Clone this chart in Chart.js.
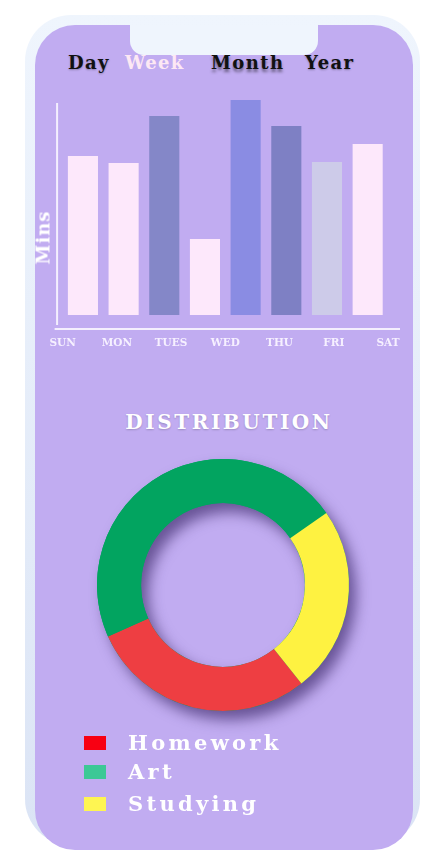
<!DOCTYPE html>
<html>
<head>
<meta charset="utf-8">
<script src="https://cdn.jsdelivr.net/npm/chart.js@4/dist/chart.umd.min.js"></script>
<style>
  html, body { margin: 0; padding: 0; background: #fff; }
  body { width: 445px; height: 862px; position: relative; overflow: hidden; font-family: "DejaVu Serif", serif; }
  .frame { position: absolute; left: 25px; top: 15px; width: 395px; height: 830px; border-radius: 46px;
           background: linear-gradient(#eff5fd, #dbe4f5); }
  .screen { position: absolute; left: 35px; top: 25px; width: 378px; height: 825px; border-radius: 40px; background: #c1acf1; }
  .notch { position: absolute; left: 130px; top: 25px; width: 188px; height: 30px; background: #eff5fd;
           border-radius: 0 0 14px 14px; }
  .tab { position: absolute; top: 52px; font-weight: bold; font-size: 18px; letter-spacing: 1.4px; color: #111;
         text-shadow: 0 1px 2px rgba(0,0,0,0.3); }
  .tab.on { color: #fde8f4; text-shadow: none; }
  .tab.shadow { text-shadow: 0 3px 3px rgba(0,0,0,0.45); }
  .mins { position: absolute; left: 15px; top: 227px; width: 56px; text-align: center; transform: rotate(-90deg);
          color: #fff; font-weight: bold; font-size: 18px; letter-spacing: 1px; }
  .title { position: absolute; left: 0; width: 458px; top: 410px; text-align: center; color: #fff; font-weight: bold;
           font-size: 20px; letter-spacing: 2.6px; text-shadow: 0 1px 2px rgba(0,0,0,0.2); }
  #bars { position: absolute; left: 0; top: 0; }
  #ring { position: absolute; left: 67px; top: 429px; }
  .legend { position: absolute; left: 84px; top: 728px; }
  .legend .row { height: 29px; display: flex; align-items: center; color: #fff; font-weight: bold; font-size: 21px; letter-spacing: 3.3px; }
  .legend .row:nth-child(3) { margin-top: 3px; }
  .legend .sw { width: 22px; height: 14px; margin-right: 22px; }
</style>
</head>
<body>
<div class="frame"></div>
<div class="screen"></div>
<div class="notch"></div>

<span class="tab" style="left:68px">Day</span>
<span class="tab on" style="left:125px">Week</span>
<span class="tab shadow" style="left:211px">Month</span>
<span class="tab" style="left:305px">Year</span>

<canvas id="bars" width="445" height="370"></canvas>
<div class="mins">Mins</div>

<div class="title">DISTRIBUTION</div>
<canvas id="ring" width="312" height="312"></canvas>
<div class="legend" id="legend"></div>

<script>
  // weekly bars (8 bars drawn, 7 day labels under them)
  var BAR_KEYS = ["Sun", "Mon", "Tue", "Tue b", "Wed", "Thu", "Fri", "Sat"];
  var BAR_MINS = [159, 152, 199, 76, 215, 189, 153, 171];
  var BAR_COLORS = ["#fde8fb", "#fde8fb", "#8487c8", "#fde8fb", "#8a8ce3", "#7e80c4", "#cdcbe9", "#fde8fb"];
  var DAY_LABELS = ["SUN", "MON", "TUES", "WED", "THU", "FRI", "SAT"];

  // distribution
  var DIST_LABELS = ["Homework", "Art", "Studying"];
  var DIST_VALUES = [29, 47, 24];
  var DIST_COLORS = ["#ee3e42", "#02a460", "#fef241"];
  var LEGEND_COLORS = ["#f80012", "#3cc896", "#fef552"];

  var FONT = "'DejaVu Serif', serif";
  var AXIS = "rgba(250,246,255,0.9)";

  // axis lines sit a little outside the bar area
  var axisLines = {
    id: "axisLines",
    afterDatasetsDraw: function (chart) {
      var a = chart.chartArea, ctx = chart.ctx;
      ctx.save();
      ctx.strokeStyle = AXIS;
      ctx.lineWidth = 2;
      ctx.beginPath();
      ctx.moveTo(a.left - 5.5, a.top + 3); ctx.lineTo(a.left - 5.5, a.bottom - 4);
      ctx.moveTo(a.left - 8, a.bottom); ctx.lineTo(a.right + 12, a.bottom);
      ctx.stroke();
      ctx.restore();
    }
  };

  new Chart(document.getElementById("bars"), {
    type: "bar",
    data: {
      labels: BAR_KEYS,
      datasets: [{ data: BAR_MINS, backgroundColor: BAR_COLORS, borderWidth: 0,
                   categoryPercentage: 1, barPercentage: 0.74 }]
    },
    options: {
      responsive: false, animation: false,
      layout: { padding: { left: 62.6, right: 57, top: 100, bottom: 17 } },
      plugins: { legend: { display: false }, tooltip: { enabled: false } },
      scales: {
        x: { display: false },
        x2: {
          type: "category", labels: DAY_LABELS, position: "bottom", offset: false,
          grid: { display: false, drawTicks: false }, border: { display: false },
          ticks: { color: "#f6f0ff", padding: 8, maxRotation: 0, autoSkip: false,
                   font: { family: FONT, size: 10.5, weight: "bold" } },
          afterFit: function (s) { s.height = 24; }
        },
        y: { display: false, min: -14, max: 215 }
      }
    },
    plugins: [axisLines]
  });

  // soft drop shadow under the whole ring
  var ringShadow = {
    id: "ringShadow",
    beforeDatasetsDraw: function (chart) {
      var arc = chart.getDatasetMeta(0).data[0];
      if (!arc) return;
      var ctx = chart.ctx;
      ctx.save();
      ctx.shadowColor = "rgba(45,25,90,0.6)";
      ctx.shadowBlur = 14;
      ctx.shadowOffsetX = 7;
      ctx.shadowOffsetY = 9;
      ctx.fillStyle = DIST_COLORS[1];
      ctx.beginPath();
      ctx.arc(arc.x, arc.y, arc.outerRadius, 0, Math.PI * 2);
      ctx.arc(arc.x, arc.y, arc.innerRadius, 0, Math.PI * 2, true);
      ctx.fill("evenodd");
      ctx.restore();
    }
  };

  new Chart(document.getElementById("ring"), {
    type: "doughnut",
    data: {
      labels: DIST_LABELS,
      datasets: [{ data: DIST_VALUES, backgroundColor: DIST_COLORS, borderWidth: 0 }]
    },
    options: {
      responsive: false, animation: false,
      cutout: "65%", rotation: 141.5,
      layout: { padding: 30 },
      plugins: { legend: { display: false }, tooltip: { enabled: false } }
    },
    plugins: [ringShadow]
  });

  var box = document.getElementById("legend");
  DIST_LABELS.forEach(function (l, i) {
    var row = document.createElement("div");
    row.className = "row";
    var sw = document.createElement("span");
    sw.className = "sw";
    sw.style.background = LEGEND_COLORS[i];
    row.appendChild(sw);
    row.appendChild(document.createTextNode(l));
    box.appendChild(row);
  });
</script>
</body>
</html>
